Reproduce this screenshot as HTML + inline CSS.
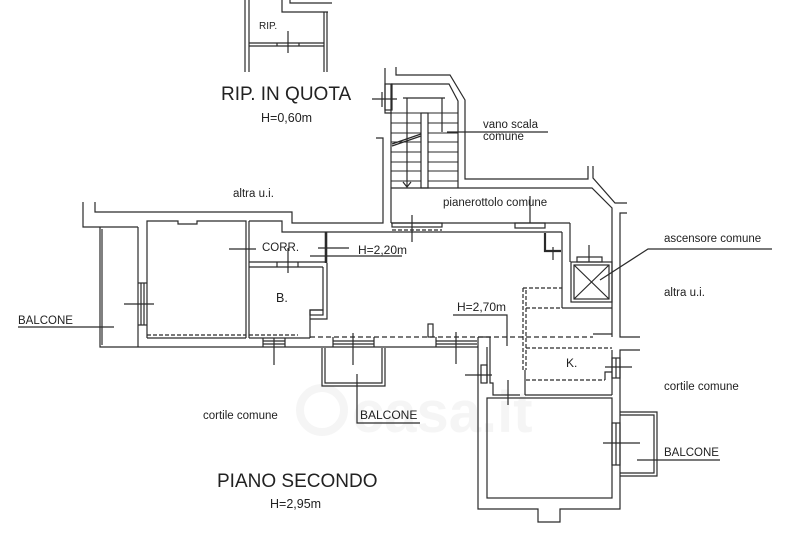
<!DOCTYPE html>
<html><head><meta charset="utf-8"><style>
html,body{margin:0;padding:0;background:#fff;}
svg{display:block;}
text{font-family:"Liberation Sans",Arial,sans-serif;fill:#222;}
</style></head><body>
<svg width="800" height="533" viewBox="0 0 800 533" xmlns="http://www.w3.org/2000/svg">
<rect width="800" height="533" fill="#fff"/>
<!-- watermark -->
<g opacity="0.55">
<circle cx="322" cy="410" r="22" fill="none" stroke="#eee" stroke-width="8"/>
<text x="352" y="432" font-size="58" style="fill:#eee" font-weight="bold">casa.it</text>
</g>
<g fill="none" stroke="#2a2a2a" stroke-width="1.2">
<!-- RIP box -->
<line x1="245" y1="0" x2="245" y2="72"/>
<line x1="249" y1="0" x2="249" y2="72"/>
<polyline points="282,0 282,12 328,12"/>
<polyline points="290,0 290,3 332,3"/>
<line x1="324" y1="12" x2="324" y2="72"/>
<line x1="327" y1="12" x2="327" y2="72"/>
<line x1="249" y1="43" x2="324" y2="43"/>
<line x1="249" y1="46" x2="324" y2="46"/>
<line x1="277" y1="43" x2="277" y2="46"/>
<line x1="299" y1="43" x2="299" y2="46"/>
<line x1="288" y1="31" x2="288" y2="53"/>

<!-- staircase -->
<polyline points="385,68 385,113 392,113"/>
<rect x="385" y="84" width="7" height="26"/>
<line x1="372" y1="99" x2="397" y2="99"/>
<line x1="382" y1="92" x2="382" y2="107"/>
<polyline points="396,67 396,75 450,75 465,100 465,179 588,179 588,166"/>
<polyline points="391,84 449,84 458,101 458,188"/>
<line x1="391" y1="84" x2="391" y2="223"/>
<polyline points="391,188 592,188 612,208 612,337"/>
<polyline points="593,166 593,178 615,203 627,203"/>
<polyline points="627,213 620,213 620,337 640,337"/>
<polyline points="640,350 620,350 620,509 560,509 560,522 538,522 538,509 478,509 478,337"/>
<g stroke-width="1">
<line x1="391" y1="113" x2="421" y2="113"/><line x1="428" y1="113" x2="458" y2="113"/>
<line x1="391" y1="123" x2="421" y2="123"/><line x1="428" y1="123" x2="458" y2="123"/>
<line x1="391" y1="133" x2="421" y2="133"/><line x1="428" y1="133" x2="458" y2="133"/>
<line x1="391" y1="142" x2="421" y2="142"/><line x1="428" y1="142" x2="458" y2="142"/>
<line x1="391" y1="152" x2="421" y2="152"/><line x1="428" y1="152" x2="458" y2="152"/>
<line x1="391" y1="162" x2="421" y2="162"/><line x1="428" y1="162" x2="458" y2="162"/>
<line x1="391" y1="171" x2="421" y2="171"/><line x1="428" y1="171" x2="458" y2="171"/>
<line x1="391" y1="181" x2="421" y2="181"/><line x1="428" y1="181" x2="458" y2="181"/>
</g>
<rect x="421" y="113" width="7" height="75"/>
<line x1="403" y1="98" x2="445" y2="98"/>
<line x1="407" y1="98" x2="407" y2="187"/>
<polyline points="403,182 407,187 411,182"/>
<line x1="442" y1="98" x2="442" y2="132"/>
<line x1="392" y1="146" x2="421" y2="136"/>
<line x1="392" y1="144" x2="421" y2="134"/>
<line x1="447" y1="132" x2="548" y2="132"/>

<!-- left building outline -->
<polyline points="376,138 383,138 383,223 292,223 292,212 95,212 95,202"/>
<polyline points="83,202 83,227 138,227"/>
<polyline points="100,227 100,347 478,347"/>
<line x1="102" y1="229" x2="102" y2="345"/>
<line x1="138" y1="227" x2="138" y2="347"/>
<!-- room 1 -->
<polyline points="147,338 147,221 178,221 178,224 197,224 197,221 246,221 246,338"/>
<line x1="147" y1="338" x2="246" y2="338"/>
<line x1="147" y1="335" x2="246" y2="335" stroke-dasharray="4,2"/>
<line x1="141" y1="283" x2="141" y2="325"/>
<line x1="144" y1="283" x2="144" y2="325"/>
<line x1="138" y1="283" x2="147" y2="283"/>
<line x1="138" y1="325" x2="147" y2="325"/>
<line x1="124" y1="304" x2="154" y2="304"/>
<line x1="18" y1="327" x2="114" y2="327"/>
<!-- CORR / B -->
<line x1="249" y1="221" x2="249" y2="338"/>
<polyline points="249,221 282,221 282,232 327,232"/>
<line x1="249" y1="262" x2="325" y2="262"/>
<line x1="249" y1="267" x2="323" y2="267"/>
<line x1="277" y1="262" x2="277" y2="267"/>
<line x1="298" y1="262" x2="298" y2="267"/>
<line x1="326" y1="232" x2="326" y2="263" stroke-width="2.6"/>
<polyline points="323,267 323,310 310,310 310,338"/>
<rect x="310" y="310" width="13" height="5"/>
<polyline points="327,263 327,319 310,319"/>
<line x1="249" y1="338" x2="310" y2="338"/>
<line x1="249" y1="335" x2="298" y2="335" stroke-dasharray="4,2"/>
<line x1="229" y1="249" x2="256" y2="249"/>
<line x1="288" y1="248" x2="288" y2="273"/>
<line x1="318" y1="248" x2="349" y2="248"/>
<line x1="310" y1="256" x2="402" y2="256"/>
<!-- main living -->
<line x1="327" y1="232" x2="562" y2="232"/>
<line x1="391" y1="223" x2="570" y2="223"/>
<line x1="570" y1="223" x2="570" y2="262"/>
<line x1="562" y1="232" x2="562" y2="308"/>
<line x1="562" y1="308" x2="612" y2="308"/>
<polyline points="545,233 545,251 561,251" stroke-width="2.2"/>
<line x1="553" y1="247" x2="553" y2="260"/>
<rect x="392" y="223" width="50" height="4"/>
<line x1="392" y1="230" x2="442" y2="230" stroke-dasharray="4,2"/>
<line x1="412" y1="215" x2="412" y2="242"/>
<rect x="515" y="223" width="30" height="5"/>
<line x1="530" y1="196" x2="530" y2="223"/>
<line x1="310" y1="337" x2="593" y2="337" stroke-dasharray="5,3"/>
<rect x="428" y="324" width="5" height="13"/>
<!-- windows on bottom wall -->
<g>
<line x1="263" y1="341" x2="285" y2="341"/><line x1="263" y1="344" x2="285" y2="344"/>
<line x1="263" y1="338" x2="263" y2="347"/><line x1="285" y1="338" x2="285" y2="347"/>
<line x1="274" y1="338" x2="274" y2="365"/>
<line x1="333" y1="341" x2="374" y2="341"/><line x1="333" y1="344" x2="374" y2="344"/>
<line x1="333" y1="337" x2="333" y2="347"/><line x1="374" y1="337" x2="374" y2="347"/>
<line x1="353" y1="333" x2="353" y2="365"/>
<line x1="436" y1="341" x2="477" y2="341"/><line x1="436" y1="344" x2="477" y2="344"/>
<line x1="436" y1="337" x2="436" y2="347"/>
<line x1="456" y1="332" x2="456" y2="364"/>
</g>
<!-- middle balcony -->
<polyline points="322,348 322,386 385,386 385,348"/>
<polyline points="325,348 325,383 382,383 382,348"/>
<polyline points="357,374 357,423 420,423"/>
<!-- column and bottom room -->
<polyline points="478,337 490,337 490,383 493,383 493,395 520,395"/>
<line x1="487" y1="347" x2="487" y2="383"/>
<rect x="481" y="365" width="6" height="18"/>
<line x1="465" y1="375" x2="492" y2="375"/>
<rect x="487" y="398" width="125" height="100"/>
<line x1="508" y1="380" x2="508" y2="405"/>
<polyline points="453,315 507,315 507,346"/>
<!-- K area -->
<line x1="523" y1="288" x2="523" y2="370" stroke-dasharray="4,2"/>
<line x1="526" y1="290" x2="526" y2="370" stroke-dasharray="4,2"/>
<line x1="523" y1="288" x2="562" y2="288" stroke-dasharray="4,2"/>
<line x1="526" y1="308" x2="562" y2="308" stroke-dasharray="4,2"/>
<line x1="526" y1="348" x2="612" y2="348" stroke-dasharray="4,2"/>
<line x1="526" y1="380" x2="605" y2="380" stroke-dasharray="4,2"/>
<polyline points="605,380 605,372 612,372"/>
<line x1="525" y1="370" x2="525" y2="395"/>
<line x1="525" y1="395" x2="612" y2="395"/>
<line x1="612" y1="350" x2="612" y2="395"/>
<polyline points="593,334 612,334"/>
<rect x="612" y="358" width="8" height="20"/>
<line x1="616" y1="358" x2="616" y2="378"/>
<line x1="605" y1="367" x2="632" y2="367"/>
<!-- elevator -->
<rect x="571" y="262" width="41" height="40"/>
<rect x="574" y="265" width="35" height="34"/>
<line x1="574" y1="265" x2="609" y2="299"/>
<line x1="609" y1="265" x2="574" y2="299"/>
<rect x="577" y="257" width="25" height="5"/>
<line x1="589" y1="245" x2="589" y2="262"/>
<polyline points="600,280 648,249 772,249"/>
<!-- right balcony -->
<rect x="612" y="423" width="8" height="42"/>
<line x1="616" y1="423" x2="616" y2="465"/>
<polyline points="620,412 657,412 657,476 620,476"/>
<polyline points="620,415 654,415 654,473 620,473"/>
<line x1="603" y1="443" x2="640" y2="443"/>
<line x1="637" y1="460" x2="720" y2="460"/>
</g>
<!-- text -->
<text x="259" y="29" font-size="10">RIP.</text>
<text x="221" y="100" font-size="19">RIP. IN QUOTA</text>
<text x="261" y="122" font-size="12.5">H=0,60m</text>
<text x="483" y="128" font-size="11.5">vano scala</text>
<text x="483" y="140" font-size="11.5">comune</text>
<text x="233" y="197" font-size="11.5">altra u.i.</text>
<text x="443" y="206" font-size="11.5">pianerottolo comune</text>
<text x="664" y="242" font-size="11.5">ascensore comune</text>
<text x="262" y="251" font-size="11.5">CORR.</text>
<text x="358" y="254" font-size="12">H=2,20m</text>
<text x="664" y="296" font-size="11.5">altra u.i.</text>
<text x="276" y="302" font-size="12.5">B.</text>
<text x="457" y="311" font-size="12">H=2,70m</text>
<text x="18" y="324" font-size="11.5">BALCONE</text>
<text x="566" y="367" font-size="12">K.</text>
<text x="664" y="390" font-size="11.5">cortile comune</text>
<text x="203" y="419" font-size="11.5">cortile comune</text>
<text x="360" y="419" font-size="12">BALCONE</text>
<text x="664" y="456" font-size="11.5">BALCONE</text>
<text x="217" y="487" font-size="19">PIANO SECONDO</text>
<text x="270" y="508" font-size="12.5">H=2,95m</text>
</svg>
</body></html>
